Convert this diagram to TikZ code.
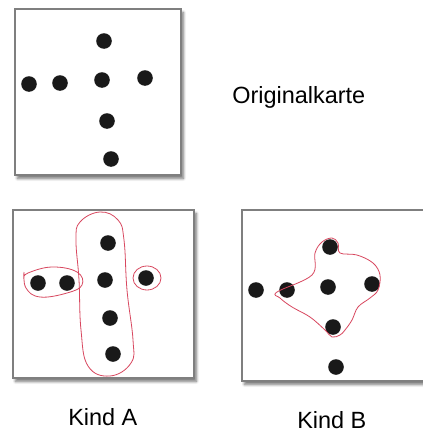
\documentclass[tikz,border=0pt]{standalone}
\usepackage{fontspec}
\setmainfont{Liberation Sans}
\usepackage{xcolor}
\usepackage{tikz}
\usetikzlibrary{
	shadows.blur,
	positioning
}
\definecolor{pen}{HTML}{D8475F}
\definecolor{frame}{HTML}{7F7F7F}
\tikzset{
	card/.style={draw=frame, line width=1.2pt, fill=white,
		blur shadow={shadow blur steps=8, shadow xshift=1.8pt, shadow yshift=-2.6pt, shadow opacity=55, shadow blur radius=2pt}},
	loop/.style={draw=pen, line width=0.6pt},
	caption/.style={inner sep=0pt, anchor=base west, font=\fontsize{17.6}{20}\selectfont}
}

\begin{document}
\begin{tikzpicture}[x=0.75pt, y=-0.75pt]
	\useasboundingbox (0,0) rectangle (422,432);
	% cards
	\path[card] (15,9) rectangle (181,175);
	\path[card] (13,210) rectangle (194,378);
	\path[card] (242,210) rectangle (424,381);
	% original card
	\foreach \x/\y in {104/41, 29/84, 60/83, 102/80, 145/78, 107/121, 111/159}
		\fill[black!90] (\x,\y) ellipse [x radius=7.8, y radius=7.8];
	% child A
	\foreach \x/\y in {108/243, 38/283, 67/283, 105/280, 146/278, 110/318, 113/354}
		\fill[black!90] (\x,\y) ellipse [x radius=7.8, y radius=7.8];
	\draw[loop] plot[smooth cycle, tension=0.7] coordinates {(80,222) (100,212) (118,220) (124,240) (127,290) (133,340) (131,363) (110,376) (88,366) (81,330) (79,280) (76,240)};
	\draw[loop] plot[smooth, tension=0.7] coordinates {(24,272) (26,288) (40,297) (67,293) (82,285) (77,272) (52,267) (28,273) (24,278)};
	\draw[loop] (147,278) ellipse [x radius=14, y radius=12];
	% child B
	\foreach \x/\y in {330/247, 256/290, 287/290, 328/287, 372/284, 333/327, 336/367}
		\fill[black!90] (\x,\y) ellipse [x radius=7.8, y radius=7.8];
	\draw[loop] plot[smooth cycle, tension=0.6] coordinates {(277,292) (312,275) (315,253) (322,242) (332,238) (338,243) (340,253) (357,255) (373,263) (380,275) (378,290) (370,298) (358,307) (352,320) (345,330) (340,335) (332,337) (325,330) (310,317) (292,307) (280,298)};
	% labels
	\node[caption] (orig) at (232,103) {Originalkarte};
	\node[caption] (kindA) at (68,425) {Kind A};
	\node[caption] (kindB) at (297,428) {Kind B};
\end{tikzpicture}
\end{document}
